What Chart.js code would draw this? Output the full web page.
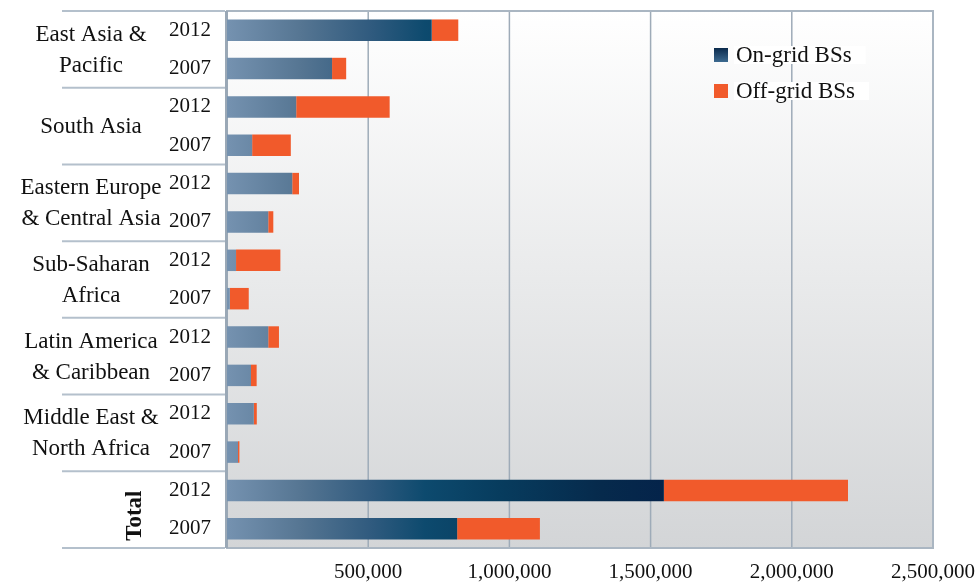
<!DOCTYPE html>
<html>
<head>
<meta charset="utf-8">
<script src="https://cdn.jsdelivr.net/npm/chart.js@4.4.1/dist/chart.umd.min.js"></script>
<style>
  html, body { margin: 0; padding: 0; background: #fff; }
  #wrap { width: 979px; height: 584px; position: relative; }
</style>
</head>
<body>
<div id="wrap"><canvas id="bs-chart" width="979" height="584"></canvas></div>
<script>
(function(){
  // one row per bar, top to bottom
  const years = ['2012', '2007', '2012', '2007', '2012', '2007', '2012', '2007',
                 '2012', '2007', '2012', '2007', '2012', '2007'];
  // region groups, two rows each
  const regions = [
    ['East Asia &', 'Pacific'],
    ['South Asia'],
    ['Eastern Europe', '& Central Asia'],
    ['Sub-Saharan', 'Africa'],
    ['Latin America', '& Caribbean'],
    ['Middle East &', 'North Africa'],
    ['Total']
  ];
  const onGrid  = [725000, 372000, 245000, 89000, 231000, 146000, 32000, 10000,
                   146000, 85000, 95000, 39000, 1547000, 815000];
  const offGrid = [94000, 50000, 331000, 137000, 24000, 18000, 157000, 67000,
                   38000, 20000, 10500, 5000, 652000, 293000];
  const xTicks = [500000, 1000000, 1500000, 2000000, 2500000];

  const serif = '"Liberation Serif", "Times New Roman", serif';
  const orange = '#f15a2b';
  const rows = years.map((y, i) => 'r' + i);

  function onGridFill(ctx){
    const area = ctx.chart.chartArea;
    if (!area) return '#2f5a7e';
    const c = ctx.chart.ctx;
    const g = c.createLinearGradient(area.left, 0, area.left + 440, 0);
    g.addColorStop(0, '#7592b0');
    g.addColorStop(0.17, '#557592');
    g.addColorStop(0.33, '#2f5a7e');
    g.addColorStop(0.45, '#0d4a6e');
    g.addColorStop(0.62, '#073c5e');
    g.addColorStop(0.85, '#062a4c');
    g.addColorStop(1, '#04234a');
    return g;
  }

  // plot background, border, left separators and region labels
  const decor = {
    id: 'decor',
    beforeDatasetsDraw(chart){
      const {ctx, chartArea: a} = chart;
      ctx.save();
      const bg = ctx.createLinearGradient(0, a.top, 0, a.bottom);
      bg.addColorStop(0, '#ffffff');
      bg.addColorStop(1, '#d3d5d7');
      ctx.fillStyle = bg;
      ctx.fillRect(a.left, a.top, a.right - a.left, a.bottom - a.top);
      // vertical grid lines
      const xs = chart.scales.x;
      ctx.strokeStyle = '#9eabb8';
      ctx.lineWidth = 1.5;
      xTicks.forEach(v => {
        const px = xs.getPixelForValue(v);
        ctx.beginPath();
        ctx.moveTo(px, a.top);
        ctx.lineTo(px, a.bottom);
        ctx.stroke();
      });
      ctx.strokeStyle = '#aab6c2';
      ctx.lineWidth = 2;
      ctx.strokeRect(a.left, a.top, a.right - a.left, a.bottom - a.top);
      ctx.strokeStyle = '#9aa8b6';
      ctx.lineWidth = 3;
      ctx.beginPath();
      ctx.moveTo(a.left - 0.5, a.top);
      ctx.lineTo(a.left - 0.5, a.bottom);
      ctx.stroke();
      ctx.restore();
    },
    afterDraw(chart){
      const {ctx, chartArea: a} = chart;
      const ys = chart.scales.y;
      const step = (a.bottom - a.top) / years.length;
      ctx.save();
      // separators between groups
      ctx.strokeStyle = '#b4c0cc';
      ctx.lineWidth = 2;
      for (let g = 0; g <= regions.length; g++) {
        const y = a.top + g * 2 * step;
        ctx.beginPath();
        ctx.moveTo(62, y);
        ctx.lineTo(a.left - 2, y);
        ctx.stroke();
      }
      // region labels
      ctx.fillStyle = '#111';
      ctx.textBaseline = 'middle';
      ctx.textAlign = 'center';
      regions.forEach((lines, g) => {
        const cy = (ys.getPixelForValue(g * 2) + ys.getPixelForValue(g * 2 + 1)) / 2;
        if (g === regions.length - 1) {
          ctx.save();
          ctx.font = 'bold 23px ' + serif;
          ctx.translate(135, cy + 6);
          ctx.rotate(-Math.PI / 2);
          ctx.fillText(lines[0], 0, 0);
          ctx.restore();
          return;
        }
        ctx.font = '23px ' + serif;
        const lh = 31;
        lines.forEach((t, k) => {
          const y = cy + 1 + (k - (lines.length - 1) / 2) * lh;
          ctx.fillText(t, 91, y);
        });
      });
      // legend inside the plot
      const items = [
        {label: chart.data.datasets[0].label, color: '#0d3a5e', y: 55},
        {label: chart.data.datasets[1].label, color: orange, y: 91}
      ];
      ctx.font = '23px ' + serif;
      ctx.textAlign = 'left';
      items.forEach(it => {
        const w = ctx.measureText(it.label).width;
        ctx.fillStyle = '#ffffff';
        ctx.fillRect(734, it.y - 9, w + 16, 18);
        if (it.color === orange) {
          ctx.fillStyle = orange;
        } else {
          const lg = ctx.createLinearGradient(0, it.y - 7, 0, it.y + 7);
          lg.addColorStop(0, '#0b2a4c');
          lg.addColorStop(1, '#3d6a90');
          ctx.fillStyle = lg;
        }
        ctx.fillRect(714, it.y - 7, 14, 14);
        ctx.fillStyle = '#111';
        ctx.fillText(it.label, 736, it.y + 1);
      });
      ctx.restore();
    }
  };

  new Chart(document.getElementById('bs-chart'), {
    type: 'bar',
    data: {
      labels: rows,
      datasets: [
        {
          label: 'On-grid BSs',
          data: onGrid,
          backgroundColor: onGridFill,
          borderWidth: 0,
          barPercentage: 0.56,
          categoryPercentage: 1
        },
        {
          label: 'Off-grid BSs',
          data: offGrid,
          backgroundColor: orange,
          borderWidth: 0,
          barPercentage: 0.56,
          categoryPercentage: 1
        }
      ]
    },
    options: {
      indexAxis: 'y',
      responsive: false,
      animation: false,
      layout: { padding: { top: 11, right: 46, left: 0, bottom: 0 } },
      plugins: {
        legend: { display: false },
        tooltip: { enabled: false }
      },
      scales: {
        x: {
          stacked: true,
          min: 0,
          max: 2500000,
          afterFit(s){ s.height = 36; s.paddingLeft = 0; s.paddingRight = 0; },
          afterBuildTicks(s){ s.ticks = xTicks.map(v => ({value: v})); },
          grid: { display: false, drawTicks: false },
          border: { display: false },
          ticks: {
            padding: 12,
            color: '#111',
            font: { family: serif, size: 21 },
            callback: v => Number(v).toLocaleString('en-US')
          }
        },
        y: {
          stacked: true,
          afterFit(s){ s.width = 227; s.paddingTop = 0; s.paddingBottom = 0; },
          grid: { display: false, drawTicks: false },
          border: { display: false },
          ticks: {
            padding: 16,
            color: '#111',
            font: { family: serif, size: 21 },
            callback: (v, i) => years[i]
          }
        }
      }
    },
    plugins: [decor]
  });
})();
</script>
</body>
</html>
